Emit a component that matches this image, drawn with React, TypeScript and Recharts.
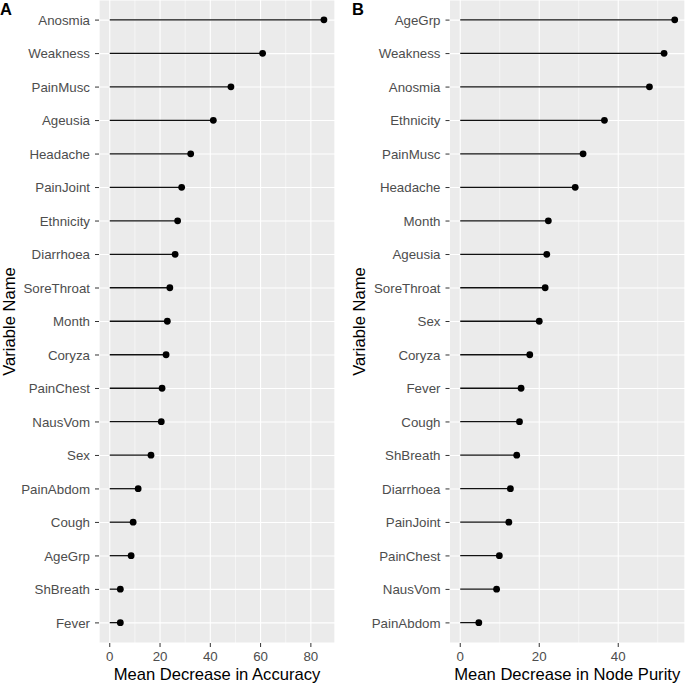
import React from "react";
import {
  BarChart,
  Bar,
  XAxis,
  YAxis,
  CartesianGrid,
} from "recharts";

// Panel A: mean decrease in accuracy
const categoriesA = [
  "Anosmia", "Weakness", "PainMusc", "Ageusia", "Headache", "PainJoint",
  "Ethnicity", "Diarrhoea", "SoreThroat", "Month", "Coryza", "PainChest",
  "NausVom", "Sex", "PainAbdom", "Cough", "AgeGrp", "ShBreath", "Fever",
];
const valuesA = [
  85.2, 60.8, 48.2, 41.2, 32.2, 28.6, 27.0, 26.0, 23.9, 22.9, 22.4, 20.8,
  20.5, 16.4, 11.3, 9.3, 8.5, 4.2, 4.2,
];
const majorTicksA = [0, 20, 40, 60, 80];
const minorTicksA = [10, 30, 50, 70];

// Panel B: mean decrease in node purity
const categoriesB = [
  "AgeGrp", "Weakness", "Anosmia", "Ethnicity", "PainMusc", "Headache",
  "Month", "Ageusia", "SoreThroat", "Sex", "Coryza", "Fever", "Cough",
  "ShBreath", "Diarrhoea", "PainJoint", "PainChest", "NausVom", "PainAbdom",
];
const valuesB = [
  54.3, 51.6, 47.9, 36.5, 31.1, 29.1, 22.3, 21.9, 21.5, 20.0, 17.6, 15.4,
  15.0, 14.3, 12.7, 12.3, 9.9, 9.2, 4.7,
];
const majorTicksB = [0, 20, 40];
const minorTicksB = [10, 30, 50];

const FONT = "'Liberation Sans', Arial, Helvetica, sans-serif";
const TICK_COLOR = "#4D4D4D";

// segment from the baseline to the value, with a dot at the end
const Lollipop = (props: any) => {
  const { x, y, width, height } = props;
  const cy = y + height / 2;
  return (
    <g>
      <line x1={x} y1={cy} x2={x + width} y2={cy} stroke="#111" strokeWidth={1.3} />
      <circle cx={x + width} cy={cy} r={3.4} fill="#000" />
    </g>
  );
};

interface PanelProps {
  categories: string[];
  values: number[];
  majorTicks: number[];
  minorTicks: number[];
  domain: [number, number];
  width: number;
  yAxisWidth: number;
  yTitleX: number;
  rightMargin: number;
  xTitle: string;
}

function LollipopPanel({
  categories,
  values,
  majorTicks,
  minorTicks,
  domain,
  width,
  yAxisWidth,
  yTitleX,
  rightMargin,
  xTitle,
}: PanelProps) {
  const data = categories.map((name, i) => ({ name, value: values[i] }));

  return (
    <BarChart
      width={width}
      height={684}
      data={data}
      layout="vertical"
      margin={{ top: 0, right: rightMargin, bottom: 0, left: 0 }}
      barCategoryGap={0}
    >
      <CartesianGrid fill="#EBEBEB" stroke="#FFFFFF" strokeWidth={1.1} />
      <CartesianGrid
        xAxisId="minor"
        horizontal={false}
        stroke="#FFFFFF"
        strokeWidth={0.55}
      />
      <XAxis
        type="number"
        domain={domain}
        allowDataOverflow
        ticks={majorTicks}
        height={41}
        axisLine={false}
        tickSize={4}
        tickMargin={5}
        tickLine={{ stroke: "#333333", strokeWidth: 1 }}
        tick={{ fill: TICK_COLOR, fontSize: 13.3 }}
        label={{
          content: ({ viewBox }: any) => (
            <text
              x={viewBox.x + viewBox.width / 2}
              y={viewBox.y + 37}
              textAnchor="middle"
              fontSize={16.6}
              fill="#000"
            >
              {xTitle}
            </text>
          ),
        }}
      />
      <XAxis
        xAxisId="minor"
        type="number"
        domain={domain}
        allowDataOverflow
        ticks={minorTicks}
        hide
      />
      <YAxis
        type="category"
        dataKey="name"
        width={yAxisWidth}
        padding={{ top: 3.35, bottom: 3.35 }}
        axisLine={false}
        tickSize={4}
        tickMargin={5}
        interval={0}
        tickLine={{ stroke: "#333333", strokeWidth: 1 }}
        tick={{ fill: TICK_COLOR, fontSize: 13.3 }}
        label={{
          content: ({ viewBox }: any) => {
            const cx = viewBox.x + yTitleX;
            const cy = viewBox.y + viewBox.height / 2;
            return (
              <text
                x={cx}
                y={cy}
                transform={`rotate(-90, ${cx}, ${cy})`}
                textAnchor="middle"
                fontSize={16.6}
                fill="#000"
              >
                Variable Name
              </text>
            );
          },
        }}
      />
      <Bar dataKey="value" shape={<Lollipop />} isAnimationActive={false} />
    </BarChart>
  );
}

export default function App() {
  return (
    <div
      style={{
        position: "absolute",
        left: 0,
        top: 0,
        width: 685,
        height: 684,
        background: "#fff",
        fontFamily: FONT,
        overflow: "hidden",
      }}
    >
      <div style={{ position: "absolute", left: 0, top: 0 }}>
        <LollipopPanel
          categories={categoriesA}
          values={valuesA}
          majorTicks={majorTicksA}
          minorTicks={minorTicksA}
          domain={[-4.28, 89.6]}
          width={340}
          yAxisWidth={99}
          yTitleX={15}
          rightMargin={5}
          xTitle="Mean Decrease in Accuracy"
        />
      </div>
      <div style={{ position: "absolute", left: 340, top: 0 }}>
        <LollipopPanel
          categories={categoriesB}
          values={valuesB}
          majorTicks={majorTicksB}
          minorTicks={minorTicksB}
          domain={[-2.72, 56.9]}
          width={345}
          yAxisWidth={109.5}
          yTitleX={25}
          rightMargin={0}
          xTitle="Mean Decrease in Node Purity"
        />
      </div>
      <div
        style={{
          position: "absolute",
          left: 0,
          top: -1,
          fontSize: 16.5,
          fontWeight: "bold",
          lineHeight: "20px",
        }}
      >
        A
      </div>
      <div
        style={{
          position: "absolute",
          left: 352,
          top: -1,
          fontSize: 16.5,
          fontWeight: "bold",
          lineHeight: "20px",
        }}
      >
        B
      </div>
    </div>
  );
}
